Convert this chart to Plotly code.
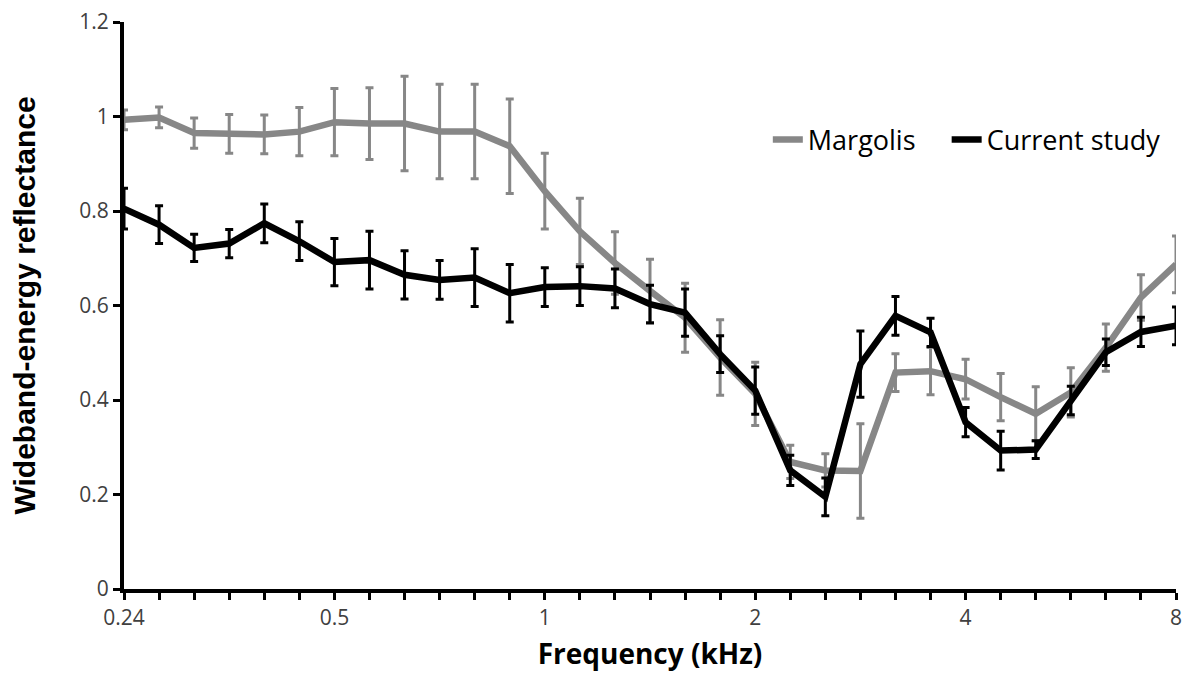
import plotly.graph_objects as go

# 1/6-octave frequency categories (kHz)
freq_khz = ["0.24", "0.28", "0.315", "0.355", "0.4", "0.45", "0.5", "0.56", "0.63", "0.71",
            "0.8", "0.9", "1", "1.12", "1.25", "1.4", "1.6", "1.8", "2", "2.24",
            "2.5", "2.8", "3.15", "3.55", "4", "4.5", "5", "5.6", "6.3", "7.1", "8"]

# tick labels shown on the x axis
tick_labels = {"0.24": "0.24", "0.5": "0.5", "1": "1", "2": "2", "4": "4", "8": "8"}

margolis = [0.993, 0.998, 0.965, 0.963, 0.962, 0.968, 0.988, 0.985, 0.985, 0.968,
            0.968, 0.937, 0.842, 0.757, 0.690, 0.631, 0.574, 0.490, 0.413, 0.269,
            0.251, 0.250, 0.458, 0.461, 0.444, 0.406, 0.371, 0.416, 0.511, 0.617, 0.687]
margolis_err = [0.021, 0.022, 0.032, 0.041, 0.041, 0.051, 0.071, 0.076, 0.100, 0.100,
                0.100, 0.100, 0.080, 0.070, 0.066, 0.067, 0.073, 0.080, 0.067, 0.035,
                0.035, 0.100, 0.040, 0.050, 0.042, 0.050, 0.057, 0.052, 0.050, 0.048, 0.060]

current = [0.805, 0.771, 0.722, 0.731, 0.774, 0.736, 0.692, 0.696, 0.665, 0.654,
           0.659, 0.626, 0.639, 0.641, 0.636, 0.603, 0.585, 0.497, 0.420, 0.251,
           0.195, 0.476, 0.578, 0.543, 0.353, 0.293, 0.295, 0.399, 0.501, 0.544, 0.557]
current_err = [0.043, 0.040, 0.029, 0.030, 0.041, 0.041, 0.050, 0.061, 0.051, 0.041,
               0.061, 0.061, 0.041, 0.041, 0.041, 0.040, 0.050, 0.039, 0.050, 0.032,
               0.040, 0.070, 0.041, 0.030, 0.031, 0.041, 0.019, 0.030, 0.028, 0.031, 0.040]

y_ticks = [0, 0.2, 0.4, 0.6, 0.8, 1, 1.2]

FONT = "Open Sans"
GRAY = "#878787"

fig = go.Figure()
fig.add_trace(go.Scatter(
    x=freq_khz, y=margolis, mode="lines", name="Margolis", legend="legend",
    line=dict(color=GRAY, width=6.5),
    error_y=dict(type="data", array=margolis_err, visible=True, color=GRAY, thickness=3, width=4),
    cliponaxis=False,
))
fig.add_trace(go.Scatter(
    x=freq_khz, y=current, mode="lines", name="Current study", legend="legend2",
    line=dict(color="black", width=6.5),
    error_y=dict(type="data", array=current_err, visible=True, color="black", thickness=3, width=4),
    cliponaxis=False,
))

legend_style = dict(orientation="h", xanchor="left", yanchor="middle", y=0.792,
                    font=dict(family=FONT, size=27, color="black"),
                    bgcolor="rgba(0,0,0,0)", itemwidth=30)

fig.update_layout(
    width=1174, height=664,
    margin=dict(l=116, r=6, t=14, b=83),
    paper_bgcolor="white", plot_bgcolor="white",
    font=dict(family=FONT, color="#404040"),
    showlegend=True,
    legend=dict(x=0.612, **legend_style),
    legend2=dict(x=0.782, **legend_style),
    xaxis=dict(
        type="category", categoryorder="array", categoryarray=freq_khz,
        range=[0, len(freq_khz) - 1],
        tickmode="array", tickvals=freq_khz,
        ticktext=[tick_labels.get(f, "") for f in freq_khz],
        showline=True, linecolor="black", linewidth=4,
        ticks="outside", ticklen=7, tickwidth=3, tickcolor="black",
        tickfont=dict(family=FONT, size=21, color="#404040"),
        ticklabeloverflow="allow", automargin=False,
        showgrid=False, zeroline=False,
        title=dict(text="<b>Frequency (kHz)</b>", font=dict(family=FONT, size=28, color="black"), standoff=24),
    ),
    yaxis=dict(
        range=[0, 1.2], tickmode="array", tickvals=y_ticks,
        ticktext=[("%g" % v) for v in y_ticks],
        showline=True, linecolor="black", linewidth=4,
        ticks="outside", ticklen=7, tickwidth=3, tickcolor="black",
        tickfont=dict(family=FONT, size=21, color="#404040"),
        ticklabeloverflow="allow", automargin=False,
        showgrid=False, zeroline=False,
        title=dict(text="<b>Wideband-energy reflectance</b>",
                   font=dict(family="Liberation Sans", size=30, color="black"), standoff=43),
    ),
)

fig.write_html("out.html")
